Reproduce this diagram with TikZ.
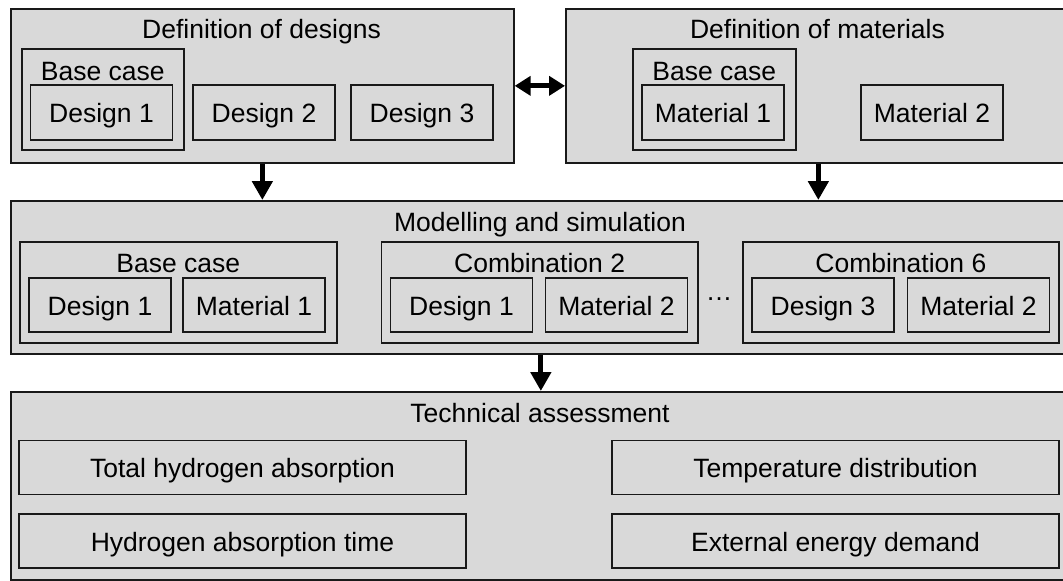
\documentclass[tikz,border=0pt]{standalone}
\usepackage{fontspec}
\setmainfont{Liberation Sans}
\usetikzlibrary{positioning,arrows.meta}
\definecolor{panelgray}{RGB}{217,217,217}
\definecolor{edge}{RGB}{25,25,25}

\begin{document}
\begin{tikzpicture}[x=1pt,y=-1pt,node distance=5pt,
    font=\fontsize{26.5}{31}\selectfont,
    panel/.style={draw=edge,fill=panelgray,line width=1.7pt,
                  anchor=north west,inner sep=0pt},
    item/.style={draw=edge,fill=panelgray,line width=1.7pt,
                 minimum width=142pt,minimum height=55pt,
                 text height=20pt,text depth=0pt,inner sep=0pt},
    metric/.style={item,minimum width=447pt,minimum height=54pt},
    caption/.style={inner sep=0pt,text height=19pt,text depth=0pt},
    heading/.style={anchor=base,inner sep=0pt},
    flow/.style={-{Triangle[width=20pt,length=19pt]},line width=5pt},
    swap/.style={{Triangle[width=19pt,length=16pt]}-{Triangle[width=19pt,length=16pt]},
                 line width=5pt}]

  \path [use as bounding box,clip] (0,0) rectangle (1063,581);

  \node [panel,minimum width=503pt,minimum height=154pt] (designs) at (10,8) {};
  \node [heading] at (261.5,38) {Definition of designs};

  \node [panel,minimum width=162pt,minimum height=101pt] (designBase) at (21,48) {};
  \node [caption,below=13pt of designBase.north] {Base case};
  \node [item] (d1) at (101.5,112.5) {Design 1};
  \node [item] (d2) at (264,112.5) {Design 2};
  \node [item] (d3) at (422,112.5) {Design 3};

  \node [panel,minimum width=505pt,minimum height=154pt] (materials) at (565,8) {};
  \node [heading] at (817.5,38) {Definition of materials};

  \node [panel,minimum width=163pt,minimum height=101pt] (materialBase) at (632,48) {};
  \node [caption,below=13pt of materialBase.north] {Base case};
  \node [item] (m1) at (713,112.5) {Material 1};
  \node [item] (m2) at (932,112.5) {Material 2};

  \draw [swap] (designs.east) -- (materials.west);

  \node [panel,minimum width=1060pt,minimum height=153pt] (modelling) at (10,200) {};
  \node [heading] at (540,231) {Modelling and simulation};

  \draw [flow] (designs.south) -- (designs.south |- modelling.north);
  \draw [flow] (materials.south) -- (materials.south |- modelling.north);

  \node [panel,minimum width=317pt,minimum height=101pt] (caseBase) at (19,241) {};
  \node [caption,below=12pt of caseBase.north] {Base case};
  \node [item,minimum height=54pt] (baseD) at (100,305) {Design 1};
  \node [item,minimum height=54pt] (baseM) at (254,305) {Material 1};

  \node [panel,minimum width=316.5pt,minimum height=101pt] (caseTwo) at (380.5,241) {};
  \node [caption,below=12pt of caseTwo.north] {Combination 2};
  \node [item,minimum height=54pt] (twoD) at (461.5,305) {Design 1};
  \node [item,minimum height=54pt] (twoM) at (616.5,305) {Material 2};

  \node (dots) at (719,299) {\ldots};

  \node [panel,minimum width=316pt,minimum height=101pt] (caseSix) at (742,241) {};
  \node [caption,below=12pt of caseSix.north] {Combination 6};
  \node [item,minimum height=54pt] (sixD) at (823,305) {Design 3};
  \node [item,minimum height=54pt] (sixM) at (978.5,305) {Material 2};

  \node [panel,minimum width=1060pt,minimum height=188pt] (assessment) at (10,391) {};
  \node [heading] at (540,422) {Technical assessment};

  \draw [flow] (modelling.south) -- (assessment.north);

  \node [metric] (total) at (242.5,467.5) {Total hydrogen absorption};
  \node [metric] (time) at (242.5,541) {Hydrogen absorption time};
  \node [metric] (temp) at (835.5,467.5) {Temperature distribution};
  \node [metric] (energy) at (835.5,541) {External energy demand};

\end{tikzpicture}
\end{document}
